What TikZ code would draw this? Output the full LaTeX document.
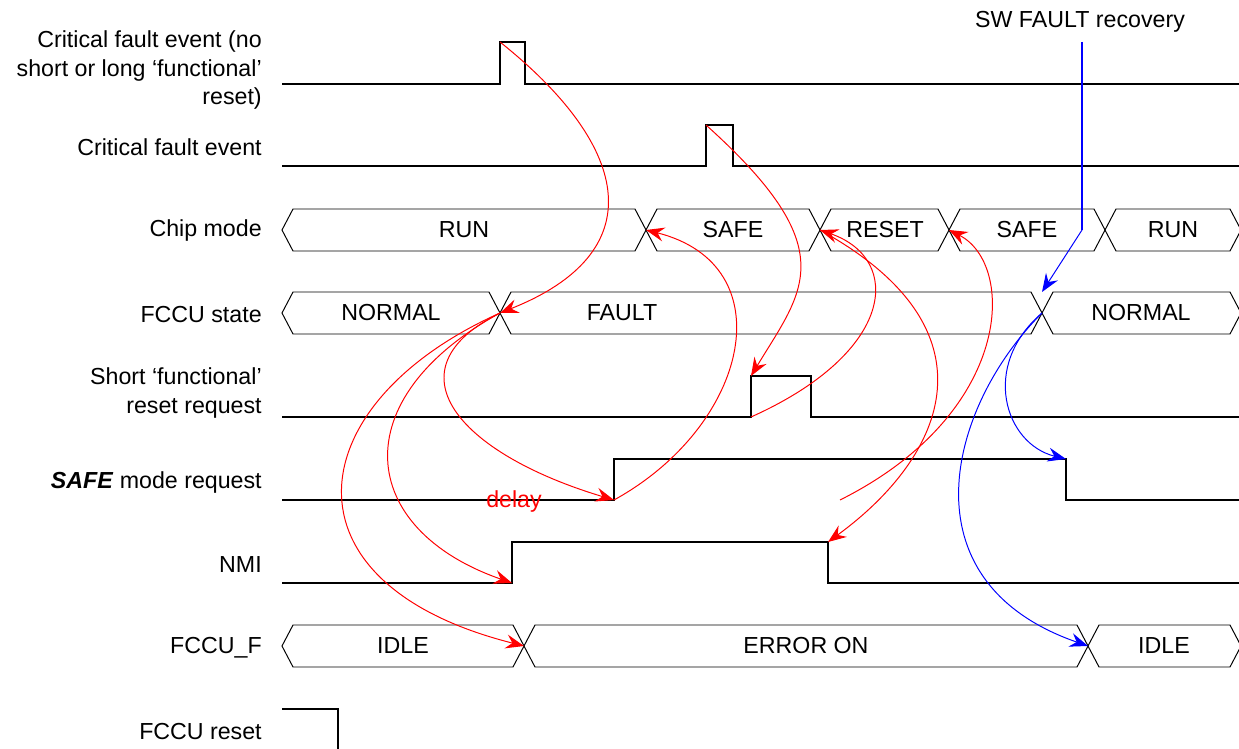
\documentclass[tikz,border=0pt]{standalone}
\usepackage{fontspec}
\setmainfont{Liberation Sans}
\usetikzlibrary{arrows.meta}

\tikzset{
  sig/.style={line width=1.3pt},
  bus/.style={line width=0.7pt},
  lbl/.style={anchor=east, align=right, inner sep=0pt},
  redarr/.style={red, line width=0.7pt, -{Stealth[length=13pt,width=10pt,inset=4.5pt]}},
  bluearr/.style={blue, line width=0.7pt, -{Stealth[length=13pt,width=10pt,inset=4.5pt]}},
}

\begin{document}
\begin{tikzpicture}[x=0.025cm, y=-0.025cm, font=\fontsize{16.5}{20}\selectfont]
\useasboundingbox (0,0) rectangle (1239,749);

% row labels
\node[lbl] (lcfa) at (262,70) {Critical fault event (no\\short or long ‘functional’\\reset)};
\node[lbl] (lcfb) at (262,147) {Critical fault event};
\node[lbl] (lcm) at (262,231) {Chip mode};
\node[lbl] (lfs) at (262,315) {FCCU state};
\node[lbl] (lsr) at (262,393) {Short ‘functional’\\reset request};
\node[lbl] (lsq) at (262,482) {\textbf{\textit{SAFE}} mode request};
\node[lbl] (lnmi) at (262,565) {NMI};
\node[lbl] (lff) at (262,648) {FCCU\_F};
\node[lbl] (lfr) at (262,732) {FCCU reset};

% single-bit signals
\draw[sig] (282,84) -- (500,84) -- (500,42) coordinate (cfa) -- (525,42) -- (525,84) -- (1239,84);
\draw[sig] (282,166) -- (706,166) -- (706,125) coordinate (cfb) -- (733,125) -- (733,166) -- (1239,166);
\draw[sig] (282,417) -- (751,417) coordinate (srlow) -- (751,376) coordinate (srup) -- (811,376) -- (811,417) -- (1239,417);
\draw[sig] (282,500) -- (614,500) coordinate (sqlow) -- (614,459) -- (1066,459) coordinate (sqfall) -- (1066,500) -- (1239,500);
\draw[sig] (282,583) -- (512,583) coordinate (nmilow) -- (512,542) -- (828,542) coordinate (nmifall) -- (828,583) -- (1239,583);
\draw[sig] (282,709) -- (338,709) -- (338,760);

% bus rows
\foreach \xa/\xb/\tx/\txt [count=\i] in {282/646/464/RUN, 646/820/733/SAFE, 820/949/885/RESET, 949/1105/1027/SAFE, 1105/1241/1173/RUN}{
  \draw[bus] (\xa,230) -- (\xa+11,209) -- (\xb-11,209) -- (\xb,230) -- (\xb-11,251) -- (\xa+11,251) -- cycle;
  \node (cm\i) at (\tx,230) {\txt};
  \coordinate (cmx\i) at (\xb,230);
}
\foreach \xa/\xb/\tx/\txt [count=\i] in {282/500/391/NORMAL, 500/1042/622/FAULT, 1042/1241/1141/NORMAL}{
  \draw[bus] (\xa,313) -- (\xa+11,292) -- (\xb-11,292) -- (\xb,313) -- (\xb-11,334) -- (\xa+11,334) -- cycle;
  \node (fs\i) at (\tx,313) {\txt};
  \coordinate (fsx\i) at (\xb,313);
}
\foreach \xa/\xb/\tx/\txt [count=\i] in {282/524/403/IDLE, 524/1088/806/ERROR ON, 1088/1241/1164/IDLE}{
  \draw[bus] (\xa,646) -- (\xa+11,625) -- (\xb-11,625) -- (\xb,646) -- (\xb-11,667) -- (\xa+11,667) -- cycle;
  \node (ff\i) at (\tx,646) {\txt};
  \coordinate (ffx\i) at (\xb,646);
}

% SW recovery
\node (sw) at (1080,22) {SW FAULT recovery};
\coordinate (swtop) at (1082,42);
\coordinate (swk) at (1082,230);
\coordinate (fstop) at (1042,292);
\draw[blue, line width=1.3pt] (swtop) -- (swk);
\draw[bluearr] (swk) -- (fstop);
\draw[bluearr] (fsx2) .. controls +(-62,53) and +(-61,-15) .. (sqfall);
\draw[bluearr] (fsx2) .. controls +(-93,93) and +(-187,-65) .. (ffx2);

% fault reaction
\coordinate (efree) at (840,500);
\node[red] (delay) at (514,501) {delay};
\draw[redarr] (cfa) .. controls +(134,107) and +(151,-60) .. (fsx1);
\draw[redarr] (cfb) .. controls +(139,125) and +(52,-86) .. (srup);
\draw[redarr] (srlow) .. controls +(145,-65) and +(83,29) .. (cmx2);
\draw[redarr] (sqlow) .. controls +(136,-75) and +(139,35) .. (cmx1);
\draw[redarr] (efree) .. controls +(174,-87) and +(67,34) .. (cmx3);
\draw[redarr] (cmx2) .. controls +(180,99) and +(119,-87) .. (nmifall);
\draw[redarr] (fsx1) .. controls +(-113,56) and +(-157,-47) .. (sqlow);
\draw[redarr] (fsx1) .. controls +(-157,86) and +(-155,-54) .. (nmilow);
\draw[redarr] (fsx1) .. controls +(-201,90) and +(-250,-63) .. (ffx1);
\end{tikzpicture}
\end{document}
